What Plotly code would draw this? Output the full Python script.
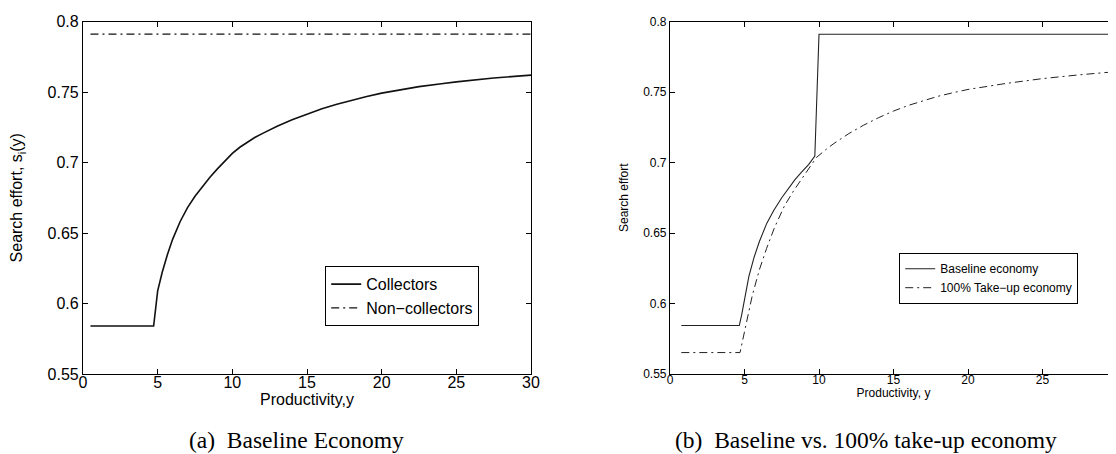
import plotly.graph_objects as go

# ---------------- data ----------------
# Panel (a): Baseline economy
collectors_x = [0.5, 4.73, 5.0, 5.3, 5.65, 6.0, 6.5, 7.0, 7.5, 8.0, 8.5, 9.0, 9.5, 10.0, 10.5,
                11.0, 11.5, 12.0, 12.5, 13.0, 14.0, 15.0, 16.0, 17.0, 18.0, 19.0, 20.0, 21.0,
                22.5, 24.0, 25.0, 27.5, 30.0]
collectors_y = [0.584, 0.584, 0.609, 0.622, 0.6345, 0.6455, 0.658, 0.668, 0.676, 0.683,
                0.6895, 0.6955, 0.7012, 0.7065, 0.7108, 0.7145, 0.7177, 0.7205, 0.7232,
                0.7257, 0.7303, 0.7345, 0.7382, 0.7413, 0.7442, 0.7468, 0.7492, 0.7512,
                0.7538, 0.7559, 0.7572, 0.7599, 0.762]
noncollectors_x = [0.5, 30.0]
noncollectors_y = [0.791, 0.791]

# Panel (b): Baseline vs 100% take-up
baseline_x = [0.76, 4.65, 4.81, 5.0, 5.29, 5.65, 6.0, 6.5, 6.96, 7.5, 7.9, 8.4, 8.86, 9.3,
              9.72, 10.0, 30.0]
baseline_y = [0.5844, 0.5844, 0.592, 0.603, 0.619, 0.633, 0.644, 0.657, 0.666, 0.675, 0.681,
              0.688, 0.6935, 0.6985, 0.7045, 0.791, 0.791]
takeup_x = [0.76, 4.7, 5.05, 5.53, 6.0, 6.48, 7.0, 7.67, 8.3, 8.86, 9.4, 9.82, 10.5, 11.0,
            12.0, 13.0, 14.0, 15.0, 16.0, 17.0, 18.0, 19.0, 20.0, 22.5, 25.0, 27.5, 30.0]
takeup_y = [0.5652, 0.5652, 0.5825, 0.606, 0.624, 0.639, 0.6535, 0.669, 0.680, 0.689, 0.6975,
            0.7035, 0.7095, 0.7135, 0.7205, 0.7265, 0.7318, 0.7365, 0.7405, 0.744, 0.747,
            0.7495, 0.7518, 0.756, 0.7595, 0.7622, 0.7645]

x_ticks = [0, 5, 10, 15, 20, 25, 30]
x_ticklabels = ["0", "5", "10", "15", "20", "25", "30"]
y_ticks = [0.55, 0.6, 0.65, 0.7, 0.75, 0.8]
y_ticklabels = ["0.55", "0.6", "0.65", "0.7", "0.75", "0.8"]

caption_a = "(a)  Baseline Economy"
caption_b = "(b)  Baseline vs. 100% take-up economy"

# ---------------- layout geometry ----------------
W, H = 1116, 454
def px_x(p):
    return p / W
def px_y(p):
    return 1 - p / H

DASHDOT = "8px,4px,2px,4px"
SANS = "Liberation Sans, Arial, sans-serif"
SERIF = "Liberation Serif, DejaVu Serif, serif"

fig = go.Figure()

fig.add_trace(go.Scatter(x=collectors_x, y=collectors_y, mode="lines", name="Collectors",
                         line=dict(color="#111", width=1.6),
                         xaxis="x", yaxis="y", legend="legend"))
fig.add_trace(go.Scatter(x=noncollectors_x, y=noncollectors_y, mode="lines", name="Non\u2212collectors",
                         line=dict(color="#111", width=1.3, dash=DASHDOT), xaxis="x", yaxis="y",
                         legend="legend"))
fig.add_trace(go.Scatter(x=baseline_x, y=baseline_y, mode="lines", name="Baseline economy",
                         line=dict(color="#222", width=1.1), xaxis="x2", yaxis="y2",
                         legend="legend2"))
fig.add_trace(go.Scatter(x=takeup_x, y=takeup_y, mode="lines", name="100% Take\u2212up economy",
                         line=dict(color="#222", width=1.0, dash=DASHDOT), xaxis="x2", yaxis="y2",
                         legend="legend2"))

def axis_common(size):
    return dict(showline=True, linecolor="black", linewidth=1.2, mirror="ticks",
                ticks="inside", ticklen=5, tickcolor="black", tickwidth=1,
                showgrid=False, zeroline=False, automargin=False,
                tickfont=dict(family=SANS, size=size, color="black"))

fig.update_layout(
    xaxis=dict(domain=[px_x(75), px_x(523)], range=[0, 30], tickvals=x_ticks, ticktext=x_ticklabels,
               anchor="y", ticklabelstandoff=-6,
               title=dict(text="Productivity,y", font=dict(family=SANS, size=16, color="black"), standoff=0),
               **axis_common(16)),
    yaxis=dict(domain=[px_y(366), px_y(13.5)], range=[0.55, 0.8], tickvals=y_ticks, ticktext=y_ticklabels,
               anchor="x",
               title=dict(text="Search effort, s<sub>i</sub>(y)", font=dict(family=SANS, size=16, color="black"),
                          standoff=20),
               **axis_common(16)),
    xaxis2=dict(domain=[px_x(662), px_x(1109)], range=[0, 30], tickvals=x_ticks, ticktext=x_ticklabels,
                anchor="y2", ticklabelstandoff=-6,
                title=dict(text="Productivity, y", font=dict(family=SANS, size=12, color="black"), standoff=0),
                **axis_common(12)),
    yaxis2=dict(domain=[px_y(366), px_y(13.5)], range=[0.55, 0.8], tickvals=y_ticks, ticktext=y_ticklabels,
                anchor="x2",
                title=dict(text="Search effort", font=dict(family=SANS, size=12, color="black"), standoff=11),
                **axis_common(12)),
)

fig.update_layout(
    width=W, height=H,
    margin=dict(l=0, r=0, t=0, b=0),
    paper_bgcolor="white", plot_bgcolor="white",
    legend=dict(x=px_x(317), y=px_y(258), xanchor="left", yanchor="top",
                bordercolor="black", borderwidth=1.2, bgcolor="white",
                font=dict(family=SANS, size=16, color="black"), tracegroupgap=0,
                itemwidth=30),
    legend2=dict(x=px_x(891), y=px_y(245), xanchor="left", yanchor="top",
                 bordercolor="black", borderwidth=1.2, bgcolor="white",
                 font=dict(family=SANS, size=12, color="black"), tracegroupgap=0,
                 itemwidth=30),
    annotations=[
        dict(text=caption_a, x=px_x(289), y=px_y(432), xref="paper", yref="paper",
             showarrow=False, xanchor="center", yanchor="middle",
             font=dict(family=SERIF, size=23.5, color="black")),
        dict(text=caption_b, x=px_x(858), y=px_y(432), xref="paper", yref="paper",
             showarrow=False, xanchor="center", yanchor="middle",
             font=dict(family=SERIF, size=23.5, color="black")),
    ],
)

fig.write_html("out.html")
